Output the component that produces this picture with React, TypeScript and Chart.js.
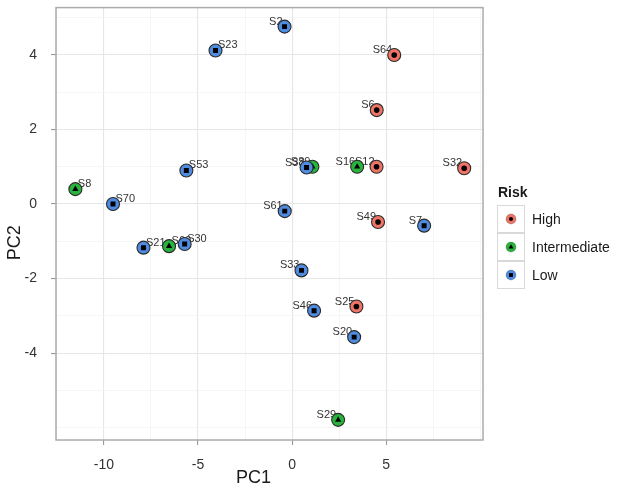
import React, { useEffect, useRef } from 'react';
import { Chart, registerables } from 'chart.js';

Chart.register(...registerables);

const sampleNames = ['S2', 'S23', 'S64', 'S6', 'S8', 'S70', 'S53', 'S21', 'S60', 'S30', 'S38', 'S39', 'S16', 'S12', 'S32', 'S61', 'S49', 'S7', 'S33', 'S46', 'S25', 'S20', 'S29'];
const pc1Values = [-0.40, -4.07, 5.43, 4.50, -11.52, -9.52, -5.62, -7.90, -6.54, -5.71, 0.77, 1.08, 3.46, 4.49, 9.15, -0.39, 4.57, 7.02, 0.50, 1.17, 3.42, 3.30, 2.45];
const pc2Values = [4.76, 4.12, 4.00, 2.52, 0.40, 0.00, 0.90, -1.17, -1.13, -1.07, 0.98, 1.00, 1.00, 1.00, 0.96, -0.19, -0.48, -0.58, -1.78, -2.86, -2.75, -3.57, -5.79];
const riskGroups = ['Low', 'Low', 'High', 'High', 'Intermediate', 'Low', 'Low', 'Low', 'Intermediate', 'Low', 'Low', 'Intermediate', 'Intermediate', 'High', 'High', 'Low', 'High', 'Low', 'Low', 'Low', 'High', 'Low', 'Intermediate'];
const riskLevels = ['High', 'Intermediate', 'Low'];
const riskColors = ['#F07466', '#29B23D', '#4F8BE0'];
const innerStyles = ['circle', 'triangle', 'rect'];
const innerRadii = [2.8, 3.6, 3.5];
const xTickLabels = ['-10', '-5', '0', '5'];
const yTickLabels = ['-4', '-2', '0', '2', '4'];
const xGridValues = [-12.5, -10, -7.5, -5, -2.5, 0, 2.5, 5, 7.5, 10];
const yGridValues = [-6, -5, -4, -3, -2, -1, 0, 1, 2, 3, 4, 5];

const FONT = '"Liberation Sans", Arial, Helvetica, sans-serif';

const xMajor = xTickLabels.map(Number);
const yMajor = yTickLabels.map(Number);

function drawMarker(ctx: CanvasRenderingContext2D, style: string, x: number, y: number, r: number) {
  ctx.beginPath();
  if (style === 'circle') {
    ctx.arc(x, y, r, 0, Math.PI * 2);
  } else if (style === 'triangle') {
    ctx.moveTo(x, y - r);
    ctx.lineTo(x + r * 0.95, y + r * 0.6);
    ctx.lineTo(x - r * 0.95, y + r * 0.6);
    ctx.closePath();
  } else {
    ctx.rect(x - r * 0.75, y - r * 0.75, r * 1.5, r * 1.5);
  }
  ctx.fill();
}

const decorPlugin = {
  id: 'decor',
  beforeDatasetsDraw(chart: any) {
    const ctx = chart.ctx as CanvasRenderingContext2D;
    const xs = chart.scales.x;
    const ys = chart.scales.y;
    ctx.save();
    ctx.font = `11px ${FONT}`;
    ctx.fillStyle = '#333333';
    ctx.textBaseline = 'alphabetic';
    sampleNames.forEach((name, i) => {
      const px = xs.getPixelForValue(pc1Values[i]);
      const py = ys.getPixelForValue(pc2Values[i]);
      if (pc1Values[i] < -2) {
        ctx.textAlign = 'left';
        ctx.fillText(name, px + 2.5, py - 2);
      } else {
        ctx.textAlign = 'right';
        ctx.fillText(name, px - 2, py - 2);
      }
    });
    ctx.restore();
  },
  afterDraw(chart: any) {
    const ctx = chart.ctx as CanvasRenderingContext2D;
    const a = chart.chartArea;
    ctx.save();
    // panel border
    ctx.strokeStyle = '#ABABAB';
    ctx.lineWidth = 1.5;
    ctx.strokeRect(a.left, a.top, a.right - a.left, a.bottom - a.top);

    // axis titles
    ctx.fillStyle = '#1a1a1a';
    ctx.font = `18px ${FONT}`;
    ctx.textAlign = 'center';
    ctx.textBaseline = 'middle';
    ctx.fillText('PC1', (a.left + a.right) / 2 - 16, 478);
    ctx.save();
    ctx.translate(15, (a.top + a.bottom) / 2 + 19);
    ctx.rotate(-Math.PI / 2);
    ctx.fillText('PC2', 0, 0);
    ctx.restore();

    // legend
    const lx = a.right + 14;
    ctx.textAlign = 'left';
    ctx.font = `bold 14px ${FONT}`;
    ctx.fillStyle = '#1a1a1a';
    ctx.fillText('Risk', lx + 1, 193);
    riskLevels.forEach((lvl, k) => {
      const top = 205 + k * 28;
      ctx.fillStyle = '#ffffff';
      ctx.fillRect(lx, top, 27.5, 27.5);
      ctx.strokeStyle = '#D9D9D9';
      ctx.lineWidth = 1;
      ctx.strokeRect(lx + 0.5, top + 0.5, 27, 27);
      const cx = lx + 14;
      const cy = top + 14;
      ctx.beginPath();
      ctx.arc(cx, cy, 5, 0, Math.PI * 2);
      ctx.fillStyle = riskColors[k];
      ctx.fill();
      ctx.strokeStyle = 'rgba(0,0,0,0.25)';
      ctx.lineWidth = 0.8;
      ctx.stroke();
      ctx.fillStyle = '#000000';
      drawMarker(ctx, innerStyles[k], cx, cy, innerRadii[k] * 0.75);
      ctx.fillStyle = '#1a1a1a';
      ctx.font = `14px ${FONT}`;
      ctx.fillText(lvl, lx + 35, cy + 1);
    });
    ctx.restore();
  },
};

export default function App() {
  const canvasRef = useRef<HTMLCanvasElement | null>(null);

  useEffect(() => {
    if (!canvasRef.current) return;
    const datasets: any[] = [];
    riskLevels.forEach((lvl, k) => {
      const pts = sampleNames
        .map((_, i) => i)
        .filter((i) => riskGroups[i] === lvl)
        .map((i) => ({ x: pc1Values[i], y: pc2Values[i] }));
      const baseOrder = (riskLevels.length - 1 - k) * 2;
      datasets.push({
        label: lvl + '-outer',
        data: pts,
        pointStyle: 'circle',
        pointRadius: 6.5,
        backgroundColor: riskColors[k],
        borderColor: '#2a2a2a',
        pointBorderWidth: 1.1,
        order: baseOrder + 1,
      });
      datasets.push({
        label: lvl + '-inner',
        data: pts,
        pointStyle: innerStyles[k],
        pointRadius: innerRadii[k],
        backgroundColor: '#000000',
        borderColor: '#000000',
        pointBorderWidth: 0,
        order: baseOrder,
      });
    });

    const chart = new Chart(canvasRef.current, {
      type: 'scatter',
      data: { datasets },
      options: {
        responsive: false,
        animation: false,
        devicePixelRatio: 1,
        layout: { padding: { left: 0, top: 5, right: 137, bottom: 0 } },
        plugins: { legend: { display: false }, tooltip: { enabled: false } },
        scales: {
          x: {
            type: 'linear',
            min: -12.55,
            max: 10.15,
            afterBuildTicks: (scale: any) => {
              scale.ticks = xGridValues.map((v) => ({ value: v }));
            },
            afterFit: (scale: any) => {
              scale.height = 50;
              scale.paddingLeft = 0;
              scale.paddingRight = 0;
            },
            border: { display: false },
            grid: {
              color: (c: any) => (xMajor.includes(c.tick?.value) ? '#E6E6E6' : '#F2F2F2'),
              lineWidth: (c: any) => (xMajor.includes(c.tick?.value) ? 1.1 : 0.7),
              tickColor: (c: any) => (xMajor.includes(c.tick?.value) ? '#999999' : 'rgba(0,0,0,0)'),
              tickLength: 5,
              drawTicks: true,
            },
            ticks: {
              autoSkip: false,
              maxRotation: 0,
              padding: 12,
              color: '#333333',
              font: { family: FONT, size: 14 },
              callback: (v: any) => {
                const idx = xMajor.indexOf(Number(v));
                return idx >= 0 ? xTickLabels[idx] : '';
              },
            },
          },
          y: {
            type: 'linear',
            min: -6.33,
            max: 5.27,
            afterBuildTicks: (scale: any) => {
              scale.ticks = yGridValues.map((v) => ({ value: v }));
            },
            afterFit: (scale: any) => {
              scale.width = 56;
              scale.paddingTop = 0;
              scale.paddingBottom = 0;
            },
            border: { display: false },
            grid: {
              color: (c: any) => (yMajor.includes(c.tick?.value) ? '#E6E6E6' : '#F2F2F2'),
              lineWidth: (c: any) => (yMajor.includes(c.tick?.value) ? 1.1 : 0.7),
              tickColor: (c: any) => (yMajor.includes(c.tick?.value) ? '#999999' : 'rgba(0,0,0,0)'),
              tickLength: 5,
              drawTicks: true,
            },
            ticks: {
              autoSkip: false,
              padding: 14,
              color: '#333333',
              font: { family: FONT, size: 14 },
              callback: (v: any) => {
                const idx = yMajor.indexOf(Number(v));
                return idx >= 0 ? yTickLabels[idx] : '';
              },
            },
          },
        },
      },
      plugins: [decorPlugin],
    } as any);

    return () => {
      chart.destroy();
    };
  }, []);

  return (
    <div style={{ position: 'fixed', left: 0, top: 0, width: 620, height: 490, background: '#ffffff' }}>
      <canvas ref={canvasRef} width={620} height={490} style={{ width: 620, height: 490, display: 'block' }} />
    </div>
  );
}
